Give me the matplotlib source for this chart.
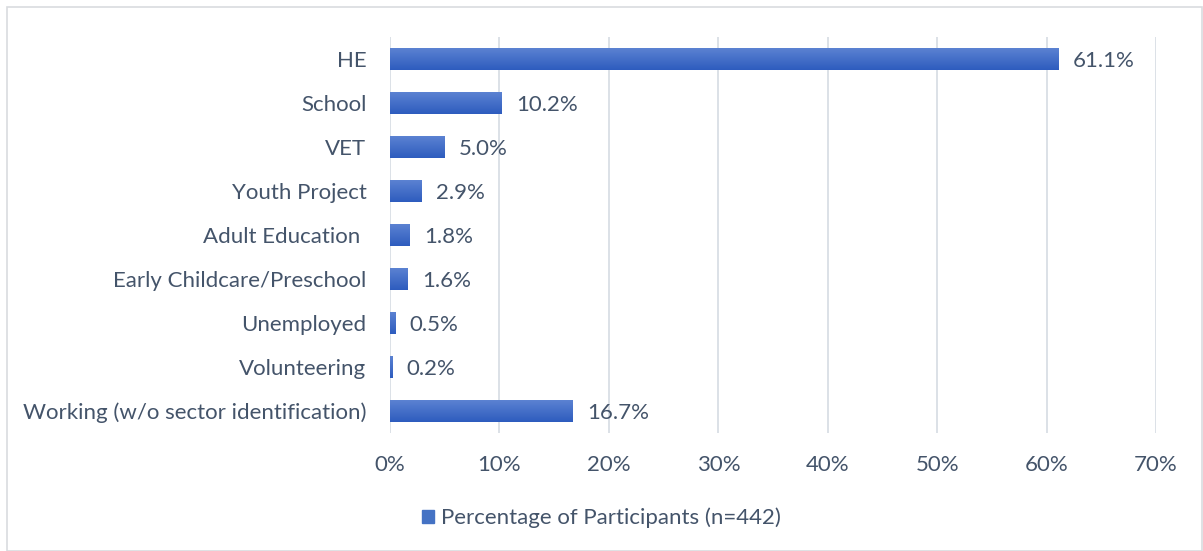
import matplotlib.pyplot as plt
import numpy as np
from matplotlib.colors import LinearSegmentedColormap
from matplotlib.patches import Rectangle

categories = ['HE', 'School', 'VET', 'Youth Project', 'Adult Education ',
              'Early Childcare/Preschool', 'Unemployed', 'Volunteering',
              'Working (w/o sector identification)']
values = [61.1, 10.2, 5.0, 2.9, 1.8, 1.6, 0.5, 0.2, 16.7]
xticks = [0, 10, 20, 30, 40, 50, 60, 70]
series_name = 'Percentage of Participants (n=442)'

text_col = '#44546A'
fs = 16
plt.rcParams['font.family'] = ['Lato', 'DejaVu Sans']

fig = plt.figure(figsize=(12.03, 5.51), dpi=100, facecolor='w')
ax = fig.add_axes([0.3242, 0.2142, 0.6368, 0.7186])

y = np.arange(len(categories))
bars = ax.barh(y, values, height=0.5, color='#4472C4', zorder=2, label=series_name)

# vertical gradient on each bar, like the original
cmap = LinearSegmentedColormap.from_list('g', ['#5B82D2', '#2E5CBE'])
grad = np.linspace(0, 1, 64).reshape(-1, 1)
for b in bars:
    x0, y0 = b.get_x(), b.get_y()
    w, h = b.get_width(), b.get_height()
    im = ax.imshow(grad, cmap=cmap, aspect='auto', extent=(x0, x0 + w, y0 + h, y0),
                   origin='upper', zorder=3)
    im.set_clip_path(b)
    b.set_facecolor('none')

for yi, v in zip(y, values):
    ax.text(v + 1.3, yi + 0.05, f'{v:.1f}%', va='center', ha='left', fontsize=fs,
            color=text_col, zorder=4)

ax.set_xlim(0, 70)
ax.set_ylim(len(categories) - 0.5, -0.5)
ax.set_xticks(xticks)
ax.set_xticklabels([f'{t}%' for t in xticks])
ax.set_yticks(y)
ax.set_yticklabels(categories)
ax.tick_params(axis='both', length=0, labelsize=fs, labelcolor=text_col)
ax.tick_params(axis='x', pad=16)
ax.tick_params(axis='y', pad=17)
ax.grid(axis='x', color='#D9DEE5', lw=1.3, zorder=0)
ax.set_axisbelow(True)
for s in ax.spines.values():
    s.set_visible(False)

handle = Rectangle((0, 0), 1, 1, color='#4472C4')
fig.legend([handle], [series_name], loc='center', bbox_to_anchor=(0.5, 0.06),
           frameon=False, fontsize=fs, handlelength=0.55, handleheight=0.55,
           handletextpad=0.3, labelcolor=text_col)

fig.patches.append(Rectangle((7 / 1203, 0), 1 - 8 / 1203, 1 - 7 / 551,
                             transform=fig.transFigure, fill=False,
                             edgecolor='#D9DCDF', lw=1.2))

fig.savefig('out.png', dpi=100)
